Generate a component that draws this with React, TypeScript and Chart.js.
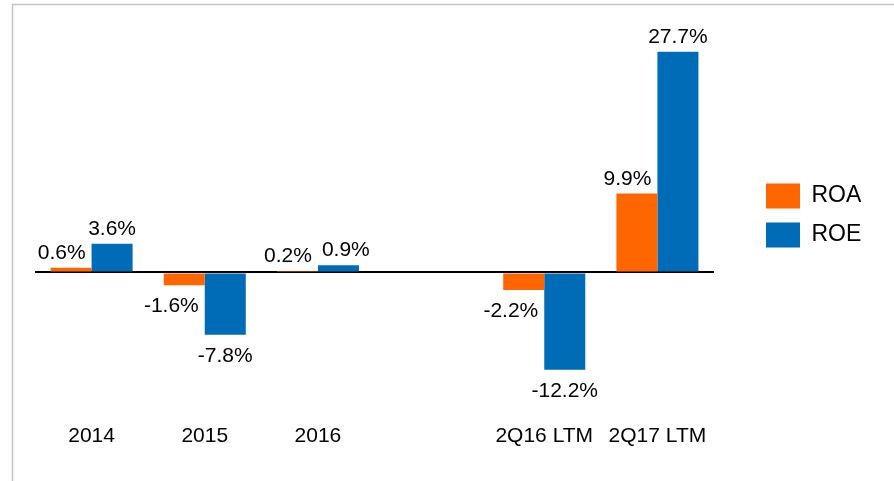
import React, { useEffect, useRef } from "react";
import { Chart, registerables } from "chart.js";

Chart.register(...registerables);

const categories = ["2014", "2015", "2016", "", "2Q16 LTM", "2Q17 LTM"];
const roaValues: (number | null)[] = [0.6, -1.6, 0.2, null, -2.2, 9.9];
const roeValues: (number | null)[] = [3.6, -7.8, 0.9, null, -12.2, 27.7];
const seriesNames = ["ROA", "ROE"];
const seriesColors = ["#FF6600", "#006BB6"];

const FONT = "'Liberation Sans', Arial, sans-serif";
const FS = 21;
const LEGEND_FS = 23;

const fmt = (v: number) => v.toFixed(1) + "%";

const framePlugin = {
  id: "frame",
  beforeDraw(chart: any) {
    const ctx = chart.ctx;
    ctx.save();
    ctx.strokeStyle = "#c4c4c4";
    ctx.lineWidth = 1.5;
    ctx.beginPath();
    ctx.moveTo(12.5, chart.height + 2);
    ctx.lineTo(12.5, 4.5);
    ctx.lineTo(chart.width + 2, 4.5);
    ctx.stroke();
    ctx.restore();
  },
};

const labelPlugin = {
  id: "valueLabels",
  afterDatasetsDraw(chart: any) {
    const ctx = chart.ctx;
    ctx.save();
    ctx.font = `${FS}px ${FONT}`;
    ctx.fillStyle = "#000";
    ctx.textBaseline = "alphabetic";
    const m0 = chart.getDatasetMeta(0);
    const m1 = chart.getDatasetMeta(1);
    const d0 = chart.data.datasets[0].data;
    const d1 = chart.data.datasets[1].data;
    for (let i = 0; i < categories.length; i++) {
      const a = d0[i];
      const e = d1[i];
      let aRight = -Infinity;
      let aBase = 0;
      if (a != null) {
        const el = m0.data[i];
        const w = el.width;
        const top = Math.min(el.y, el.base);
        const bottom = Math.max(el.y, el.base);
        aBase = a >= 0 ? top - 9 : bottom + 27;
        aRight = el.x + w / 2 - 6;
        ctx.textAlign = "right";
        ctx.fillText(fmt(a), aRight, aBase);
      }
      if (e != null) {
        const el = m1.data[i];
        const top = Math.min(el.y, el.base);
        const bottom = Math.max(el.y, el.base);
        const base = e >= 0 ? top - 9 : bottom + 27;
        const txt = fmt(e);
        const tw = ctx.measureText(txt).width;
        let cx = el.x;
        if (a != null && (a >= 0) === (e >= 0) && Math.abs(base - aBase) < 18) {
          const left = cx - tw / 2;
          if (left < aRight + 10) cx = aRight + 10 + tw / 2;
        }
        ctx.textAlign = "center";
        ctx.fillText(txt, cx, base);
      }
    }
    ctx.restore();
  },
};

export default function App() {
  const ref = useRef<HTMLCanvasElement | null>(null);
  useEffect(() => {
    if (!ref.current) return;
    Chart.defaults.font.family = FONT;
    Chart.defaults.font.size = FS;
    Chart.defaults.color = "#000";
    const chart = new Chart(ref.current, {
      type: "bar",
      data: {
        labels: categories,
        datasets: [
          {
            label: seriesNames[0],
            data: roaValues,
            backgroundColor: seriesColors[0],
            categoryPercentage: 0.725,
            barPercentage: 1.0,
          },
          {
            label: seriesNames[1],
            data: roeValues,
            backgroundColor: seriesColors[1],
            categoryPercentage: 0.725,
            barPercentage: 1.0,
          },
        ],
      },
      options: {
        responsive: false,
        animation: false,
        layout: { padding: { left: 35, right: 23, top: 35, bottom: 0 } },
        plugins: {
          legend: {
            position: "right",
            fullSize: false,
            align: "center",
            maxWidth: 119,
            labels: {
              boxWidth: 34,
              boxHeight: 25,
              padding: 14,
              color: "#000",
              font: { size: LEGEND_FS, family: FONT },
            },
          },
          tooltip: { enabled: false },
        },
        scales: {
          x: {
            grid: { display: false },
            border: { display: false },
            ticks: { padding: 20, color: "#000", font: { size: FS, family: FONT } },
            afterFit: (s: any) => {
              s.height = 85;
            },
          },
          y: {
            position: "right",
            min: -15.5,
            max: 29.8,
            z: 1,
            border: { display: false },
            ticks: { display: false },
            grid: {
              drawTicks: false,
              color: (c: any) => (c.tick && c.tick.value === 0 ? "#000" : "transparent"),
              lineWidth: 2,
            },
            afterBuildTicks: (s: any) => {
              s.ticks = [{ value: 0 }];
            },
            afterFit: (s: any) => {
              s.width = 38;
            },
          },
        },
      },
      plugins: [framePlugin, labelPlugin],
    });
    return () => chart.destroy();
  }, []);
  return (
    <div style={{ position: "absolute", left: 0, top: 0, width: 894, height: 481, background: "#fff" }}>
      <canvas ref={ref} width={894} height={481} />
    </div>
  );
}
